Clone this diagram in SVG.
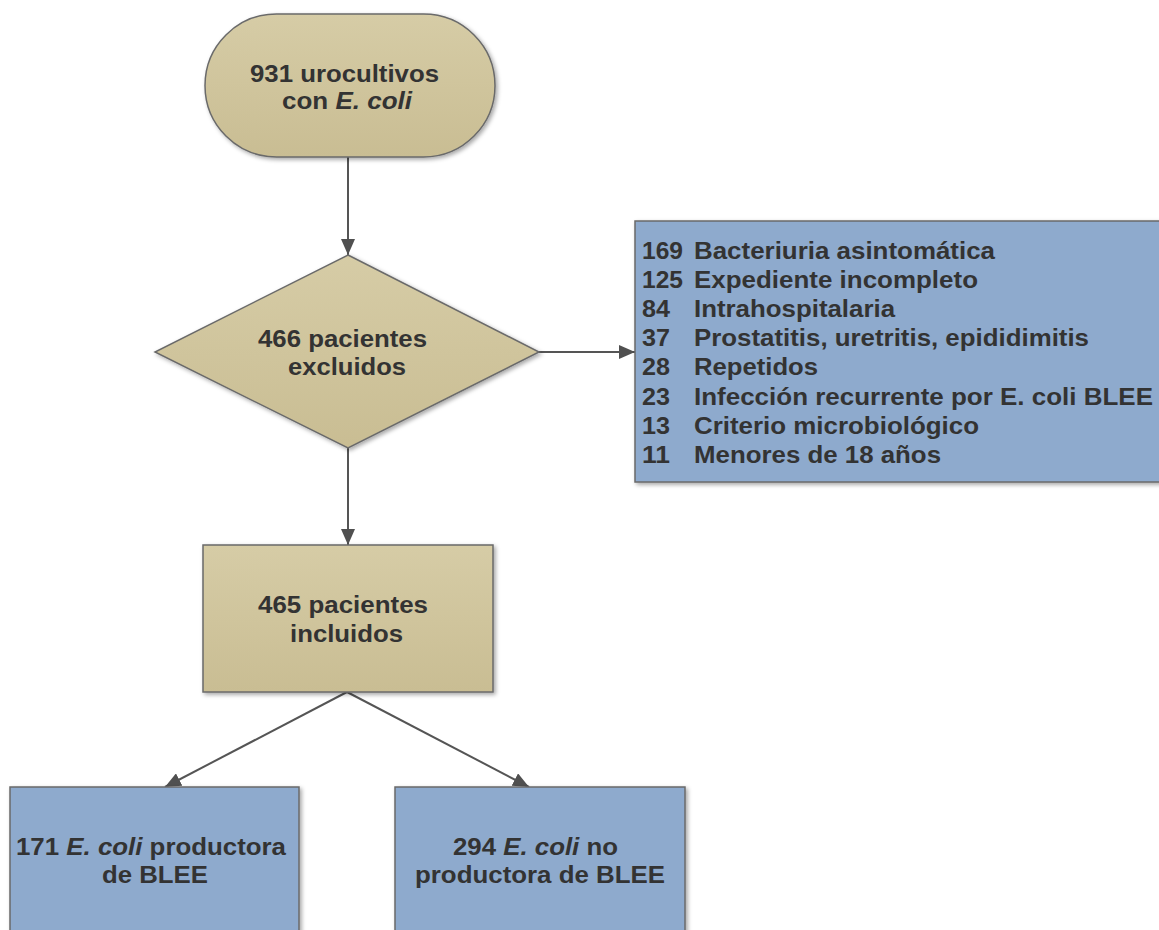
<svg xmlns="http://www.w3.org/2000/svg" width="1159" height="930" viewBox="0 0 1159 930">
<defs>
<filter id="sh" x="-10%" y="-10%" width="125%" height="125%">
<feDropShadow dx="2" dy="2" stdDeviation="2" flood-color="#000" flood-opacity="0.35"/>
</filter>
<linearGradient id="tan" x1="0" y1="0" x2="0" y2="1">
<stop offset="0" stop-color="#d6cca6"/>
<stop offset="1" stop-color="#c9bd93"/>
</linearGradient>
<marker id="arr" viewBox="0 0 16 14" refX="16" refY="7" markerWidth="16" markerHeight="14" markerUnits="userSpaceOnUse" orient="auto">
<path d="M0,0 L16,7 L0,14 z" fill="#505050"/>
</marker>
</defs>
<style>
.tan{fill:url(#tan);stroke:#6a6a6a;stroke-width:1.5;filter:url(#sh)}
.blue{fill:#8eaacd;stroke:#6a6a6a;stroke-width:1.5;filter:url(#sh)}
text{font-family:"Liberation Sans",Arial,sans-serif;font-weight:bold;font-size:23.5px;fill:#333333}
.conn line{stroke:#555555;stroke-width:2;marker-end:url(#arr)}
</style>
<rect width="1159" height="930" fill="#ffffff"/>
<g class="conn" id="connectors">
<line x1="348" y1="157" x2="348" y2="255"/>
<line x1="539" y1="352" x2="635" y2="352"/>
<line x1="348" y1="448" x2="348" y2="545"/>
<line x1="347" y1="692" x2="165" y2="787"/>
<line x1="347" y1="692" x2="529" y2="787"/>
</g>
<g id="n1">
<rect class="tan" x="205" y="14" width="290" height="143" rx="71.5" ry="71.5"/>
<text x="250" y="82" textLength="189" lengthAdjust="spacingAndGlyphs">931 urocultivos</text>
<text x="282" y="109" textLength="130" lengthAdjust="spacingAndGlyphs">con <tspan font-style="italic">E. coli</tspan></text>
</g>
<g id="n2">
<polygon class="tan" points="348,255 539,352 348,448 155,352"/>
<text x="258" y="347" textLength="169" lengthAdjust="spacingAndGlyphs">466 pacientes</text>
<text x="288" y="375" textLength="118" lengthAdjust="spacingAndGlyphs">excluidos</text>
</g>
<g id="n3">
<rect class="blue" x="635" y="221" width="530" height="261"/>
<text x="642" y="258.5" textLength="41" lengthAdjust="spacingAndGlyphs">169</text>
<text x="694" y="258.5" textLength="301" lengthAdjust="spacingAndGlyphs">Bacteriuria asintomática</text>
<text x="642" y="287.7" textLength="41" lengthAdjust="spacingAndGlyphs">125</text>
<text x="694" y="287.7" textLength="284" lengthAdjust="spacingAndGlyphs">Expediente incompleto</text>
<text x="642" y="316.9" textLength="28" lengthAdjust="spacingAndGlyphs">84</text>
<text x="694" y="316.9" textLength="201" lengthAdjust="spacingAndGlyphs">Intrahospitalaria</text>
<text x="642" y="346.1" textLength="28" lengthAdjust="spacingAndGlyphs">37</text>
<text x="694" y="346.1" textLength="395" lengthAdjust="spacingAndGlyphs">Prostatitis, uretritis, epididimitis</text>
<text x="642" y="375.3" textLength="28" lengthAdjust="spacingAndGlyphs">28</text>
<text x="694" y="375.3" textLength="124" lengthAdjust="spacingAndGlyphs">Repetidos</text>
<text x="642" y="404.5" textLength="28" lengthAdjust="spacingAndGlyphs">23</text>
<text x="694" y="404.5" textLength="459" lengthAdjust="spacingAndGlyphs">Infección recurrente por E. coli BLEE</text>
<text x="642" y="433.7" textLength="28" lengthAdjust="spacingAndGlyphs">13</text>
<text x="694" y="433.7" textLength="285" lengthAdjust="spacingAndGlyphs">Criterio microbiológico</text>
<text x="642" y="462.9" textLength="28" lengthAdjust="spacingAndGlyphs">11</text>
<text x="694" y="462.9" textLength="247" lengthAdjust="spacingAndGlyphs">Menores de 18 años</text>
</g>
<g id="n4">
<rect class="tan" x="203" y="545" width="290" height="147"/>
<text x="258" y="613" textLength="170" lengthAdjust="spacingAndGlyphs">465 pacientes</text>
<text x="290" y="641.5" textLength="113" lengthAdjust="spacingAndGlyphs">incluidos</text>
</g>
<g id="n5">
<rect class="blue" x="10" y="787" width="289" height="160"/>
<text x="16" y="855" textLength="270" lengthAdjust="spacingAndGlyphs">171 <tspan font-style="italic">E. coli</tspan> productora</text>
<text x="102" y="883" textLength="106" lengthAdjust="spacingAndGlyphs">de BLEE</text>
</g>
<g id="n6">
<rect class="blue" x="395" y="787" width="290" height="160"/>
<text x="453" y="855" textLength="165" lengthAdjust="spacingAndGlyphs">294 <tspan font-style="italic">E. coli</tspan> no</text>
<text x="415" y="883" textLength="250" lengthAdjust="spacingAndGlyphs">productora de BLEE</text>
</g>
</svg>
